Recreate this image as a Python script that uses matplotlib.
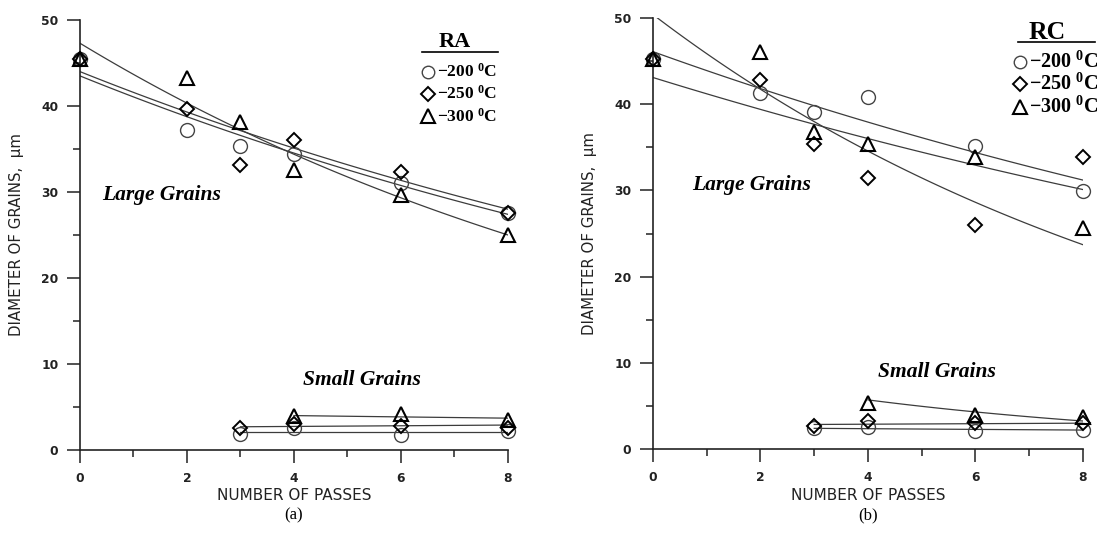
import numpy as np
import matplotlib.pyplot as plt
from matplotlib.ticker import MultipleLocator

plt.rcParams['mathtext.fontset'] = 'custom'
plt.rcParams['mathtext.rm'] = 'Liberation Serif:bold'
plt.rcParams['mathtext.it'] = 'Liberation Serif:bold'
plt.rcParams['mathtext.bf'] = 'Liberation Serif:bold'

# number of passes
passes_large = [0, 2, 3, 4, 6, 8]
passes_small = [3, 4, 6, 8]
passes_small_300 = [4, 6, 8]
temps = ['200', '250', '300']

# (a) RA
ra_large_200 = [45.5, 37.2, 35.3, 34.4, 31.0, 27.6]
ra_large_250 = [45.5, 39.7, 33.1, 36.0, 32.3, 27.5]
ra_large_300 = [45.5, 43.3, 38.1, 32.6, 29.7, 25.0]
ra_small_200 = [1.9, 2.5, 1.8, 2.2]
ra_small_250 = [2.5, 3.0, 2.8, 2.6]
ra_small_300 = [3.9, 4.15, 3.5]

# (b) RC
rc_large_200 = [45.3, 41.3, 39.1, 40.8, 35.2, 29.9]
rc_large_250 = [45.3, 42.8, 35.4, 31.4, 26.0, 33.9]
rc_large_300 = [45.3, 46.1, 36.8, 35.4, 33.9, 25.6]
rc_small_200 = [2.4, 2.6, 2.1, 2.2]
rc_small_250 = [2.7, 3.25, 3.0, 3.0]
rc_small_300 = [5.3, 3.9, 3.75]

# trend lines: value at first pass and at 8 passes (200, 250, 300)
ra_fit_large_start = [43.5, 44.0, 47.3]
ra_fit_large_end = [27.4, 28.0, 25.0]
ra_fit_small_start = [2.05, 2.7, 4.0]
ra_fit_small_end = [2.05, 2.9, 3.7]
rc_fit_large_start = [46.1, 43.1, 50.4]
rc_fit_large_end = [31.2, 30.1, 23.7]
rc_fit_small_start = [2.4, 2.85, 5.7]
rc_fit_small_end = [2.2, 3.0, 3.25]
fit_small_from = [3, 3, 4]

markers = ['o', 'D', '^']
msizes = [10, 7.5, 10.5]
mcolors = ['#444444', 'black', 'black']
mwidths = [1.0, 1.4, 1.5]

serif = 'Liberation Serif'


def trend(ax, x0, y0, y1):
    x = np.linspace(x0, 8, 60)
    y = y0 * (y1 / y0) ** ((x - x0) / (8 - x0))
    ax.plot(x, y, color='#3c3c3c', lw=0.9, zorder=2)


def draw_panel(ax, large, small, fit_ls, fit_le, fit_ss, fit_se, tag, leg_x, leg_y,
               under, caption, leg_fs, tag_fs):
    for i in range(3):
        trend(ax, 0, fit_ls[i], fit_le[i])
        trend(ax, fit_small_from[i], fit_ss[i], fit_se[i])
        xs_small = passes_small_300 if i == 2 else passes_small
        for xs, ys in [(passes_large, large[i]), (xs_small, small[i])]:
            ax.plot(xs, ys, ls='none', marker=markers[i], ms=msizes[i], mfc='none',
                    mec=mcolors[i], mew=mwidths[i], clip_on=False, zorder=3)

    ax.set_xlim(0, 8)
    ax.set_ylim(0, 50)
    ax.xaxis.set_major_locator(MultipleLocator(2))
    ax.xaxis.set_minor_locator(MultipleLocator(1))
    ax.yaxis.set_major_locator(MultipleLocator(10))
    ax.yaxis.set_minor_locator(MultipleLocator(5))
    for s in ['top', 'right']:
        ax.spines[s].set_visible(False)
    for s in ['left', 'bottom']:
        ax.spines[s].set_linewidth(1.2)
        ax.spines[s].set_color('#222222')
    ax.tick_params(which='major', direction='out', length=9.5, width=1.1, pad=6,
                   labelsize=8.8, colors='#222222')
    ax.tick_params(which='minor', direction='out', length=5, width=1.1, colors='#222222')
    for lab in ax.get_xticklabels() + ax.get_yticklabels():
        lab.set_fontweight('bold')

    ax.text(0.5, -0.107, 'NUMBER OF PASSES', transform=ax.transAxes, ha='center',
            va='center', fontsize=11, color='#222222')
    ax.text(-0.148, 0.5, 'DIAMETER OF GRAINS,  \u03bcm', transform=ax.transAxes,
            ha='center', va='center', rotation=90, fontsize=10.8, color='#222222')

    # legend block
    ax.text(leg_x + 0.5, leg_y + 3.4, tag, ha='center', va='center', family=serif,
            fontweight='bold', fontsize=tag_fs)
    ax.plot(under, [leg_y + 2.3, leg_y + 2.3], color='black', lw=1.2, clip_on=False)
    for i in range(3):
        yy = leg_y - 2.6 * i
        ax.plot([leg_x], [yy], ls='none', marker=markers[i], ms=msizes[i] * 0.9,
                mfc='none', mec=mcolors[i], mew=mwidths[i], clip_on=False)
        ax.text(leg_x + 0.17, yy, '\u2212' + temps[i] + ' $^{0}$C', ha='left',
                va='center', family=serif, fontweight='bold', fontsize=leg_fs)

    fig.text((ax.get_position().x0 + ax.get_position().x1) / 2, 0.037, caption,
             ha='center', va='center', family=serif, fontsize=12)


fig = plt.figure(figsize=(11.06, 5.35), dpi=100)
ax1 = fig.add_axes([0.0723, 0.1589, 0.387, 0.8037])
ax2 = fig.add_axes([0.5904, 0.1607, 0.3888, 0.8056])

draw_panel(ax1, [ra_large_200, ra_large_250, ra_large_300],
           [ra_small_200, ra_small_250, ra_small_300],
           ra_fit_large_start, ra_fit_large_end, ra_fit_small_start, ra_fit_small_end,
           'RA', 6.5, 44.0, [6.39, 7.81], '(a)', 12.5, 16)
draw_panel(ax2, [rc_large_200, rc_large_250, rc_large_300],
           [rc_small_200, rc_small_250, rc_small_300],
           rc_fit_large_start, rc_fit_large_end, rc_fit_small_start, rc_fit_small_end,
           'RC', 6.83, 44.9, [6.79, 8.22], '(b)', 14.5, 18.5)

for ax, x, y, txt in [(ax1, 0.41, 29.7, 'Large Grains'), (ax1, 4.17, 8.1, 'Small Grains'),
                      (ax2, 0.73, 30.6, 'Large Grains'), (ax2, 4.19, 8.9, 'Small Grains')]:
    ax.text(x, y, txt, ha='left', va='center', family=serif, fontweight='bold',
            style='italic', fontsize=15.5)

fig.savefig('out.png', dpi=100)
